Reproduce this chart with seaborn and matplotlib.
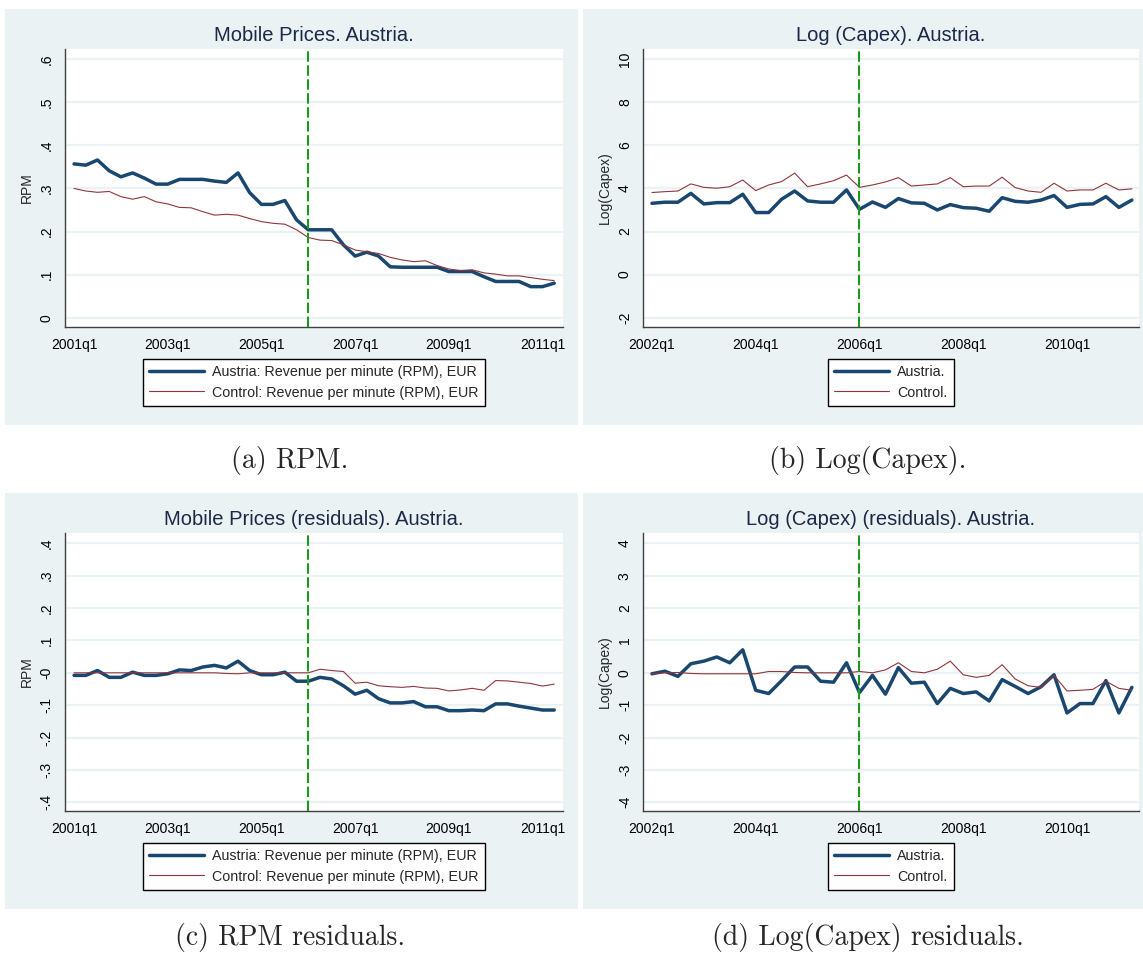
import numpy as np
import pandas as pd
import matplotlib.pyplot as plt
import seaborn as sns
from matplotlib.patches import Rectangle
from matplotlib.ticker import FuncFormatter

sns.set_style('white')
plt.rcParams['font.family'] = ['Liberation Sans', 'DejaVu Sans']

# ---- data ----
rpm_austria = [0.357, 0.354, 0.366, 0.341, 0.327, 0.336, 0.324, 0.310, 0.310, 0.321,
               0.321, 0.321, 0.317, 0.314, 0.336, 0.290, 0.263, 0.263, 0.272, 0.227,
               0.204, 0.204, 0.204, 0.169, 0.143, 0.152, 0.143, 0.118, 0.117, 0.117,
               0.117, 0.117, 0.107, 0.107, 0.107, 0.095, 0.084, 0.084, 0.084, 0.072,
               0.072, 0.080]
rpm_control = [0.300, 0.294, 0.291, 0.293, 0.281, 0.275, 0.281, 0.269, 0.264, 0.256,
               0.255, 0.246, 0.238, 0.240, 0.238, 0.230, 0.223, 0.219, 0.217, 0.204,
               0.186, 0.180, 0.179, 0.169, 0.157, 0.153, 0.149, 0.140, 0.134, 0.130,
               0.132, 0.121, 0.113, 0.109, 0.111, 0.104, 0.101, 0.097, 0.097, 0.093,
               0.089, 0.086]

capex_austria = [3.31, 3.36, 3.36, 3.77, 3.28, 3.34, 3.34, 3.73, 2.88, 2.88,
                 3.50, 3.88, 3.42, 3.36, 3.36, 3.93, 3.03, 3.37, 3.12, 3.53,
                 3.33, 3.31, 3.00, 3.25, 3.11, 3.08, 2.94, 3.57, 3.40, 3.36,
                 3.46, 3.67, 3.12, 3.26, 3.28, 3.62, 3.12, 3.46]
capex_control = [3.81, 3.85, 3.88, 4.21, 4.05, 4.01, 4.08, 4.39, 3.90, 4.16,
                 4.32, 4.71, 4.08, 4.21, 4.36, 4.62, 4.05, 4.16, 4.30, 4.50,
                 4.11, 4.16, 4.21, 4.50, 4.08, 4.11, 4.11, 4.52, 4.04, 3.88,
                 3.82, 4.24, 3.88, 3.93, 3.93, 4.24, 3.93, 3.98]

res_rpm_austria = [-0.008, -0.008, 0.007, -0.014, -0.014, 0.002, -0.008, -0.008, -0.003, 0.009,
                   0.007, 0.018, 0.023, 0.015, 0.036, 0.007, -0.006, -0.006, 0.002, -0.026,
                   -0.026, -0.014, -0.019, -0.040, -0.066, -0.054, -0.080, -0.093, -0.093, -0.089,
                   -0.105, -0.105, -0.117, -0.117, -0.115, -0.117, -0.096, -0.096, -0.103, -0.109,
                   -0.115, -0.115]
res_rpm_control = [0.000, 0.000, 0.000, 0.000, 0.000, 0.000, 0.000, 0.000, 0.000, 0.000,
                   0.000, 0.000, 0.000, -0.002, -0.003, 0.000, 0.000, 0.000, 0.000, 0.000,
                   0.000, 0.011, 0.007, 0.004, -0.032, -0.029, -0.040, -0.043, -0.045, -0.042,
                   -0.047, -0.048, -0.056, -0.053, -0.048, -0.054, -0.024, -0.025, -0.029, -0.033,
                   -0.041, -0.035]

res_capex_austria = [-0.03, 0.05, -0.11, 0.28, 0.36, 0.49, 0.31, 0.71, -0.54, -0.64,
                     -0.24, 0.18, 0.18, -0.26, -0.29, 0.31, -0.61, -0.08, -0.66, 0.16,
                     -0.32, -0.29, -0.95, -0.48, -0.64, -0.59, -0.87, -0.21, -0.42, -0.64,
                     -0.43, -0.06, -1.24, -0.95, -0.95, -0.24, -1.24, -0.45]
res_capex_control = [-0.03, 0.00, 0.01, -0.02, -0.03, -0.03, -0.03, -0.03, -0.03, 0.04,
                     0.04, 0.01, 0.00, 0.00, 0.00, 0.00, 0.04, 0.00, 0.09, 0.31,
                     0.04, 0.00, 0.11, 0.36, -0.06, -0.14, -0.08, 0.25, -0.19, -0.40,
                     -0.45, -0.08, -0.56, -0.54, -0.51, -0.26, -0.48, -0.54]

rpm_labels = ['Austria: Revenue per minute (RPM), EUR', 'Control: Revenue per minute (RPM), EUR']
capex_labels = ['Austria.', 'Control.']

NAVY = '#1A476F'
MAROON = '#90353B'
BG = '#EAF2F3'
GREEN = '#1A9A1A'
AXC = '#404040'
W, H = 1143, 955

fig = plt.figure(figsize=(W / 100, H / 100), dpi=100)
fig.patch.set_facecolor('white')


def px_rect(x0, y0, x1, y1):
    return [x0 / W, 1 - y1 / H, (x1 - x0) / W, (y1 - y0) / H]


def stata_num(v, pos=None):
    s = '%g' % round(v, 6)
    if s.startswith('0.'):
        s = s[1:]
    elif s.startswith('-0.'):
        s = '-' + s[2:]
    return s


def panel(box, axbox, start_year, austria, control, labels, yticks, ylim,
          xlim, ylabel, title, legend_xy, caption, caption_xy):
    fig.patches.append(Rectangle((box[0], box[1]), box[2], box[3],
                                 transform=fig.transFigure, facecolor=BG,
                                 edgecolor='none', zorder=-10))
    ax = fig.add_axes(axbox)
    ax.set_facecolor('white')
    q = np.arange(len(austria))
    df = pd.DataFrame({'q': q, 'austria': austria, 'control': control})
    sns.lineplot(data=df, x='q', y='austria', ax=ax, color=NAVY, lw=2.5,
                 label=labels[0], zorder=2)
    sns.lineplot(data=df, x='q', y='control', ax=ax, color=MAROON, lw=0.8,
                 label=labels[1], zorder=2.5)
    event = (2006 - start_year) * 4
    ax.axvline(event, color=GREEN, lw=1.5, ls=(0, (5, 1.7)), zorder=3)

    ax.set_xlim(*xlim)
    ax.set_ylim(*ylim)
    xt = np.arange(0, len(austria), 8)
    ax.set_xticks(xt)
    ax.set_xticklabels([f'{start_year + t // 4}q1' for t in xt], fontsize=10)
    ax.set_yticks(yticks)
    ax.yaxis.set_major_formatter(FuncFormatter(stata_num))
    for lab in ax.get_yticklabels():
        lab.set_rotation(90)
        lab.set_va('center')
        lab.set_fontsize(10)
    ax.tick_params(axis='both', direction='out', length=5, width=1, color=AXC,
                   labelcolor='black', pad=3)
    ax.yaxis.grid(True, color=BG, lw=1.6)
    ax.xaxis.grid(False)
    ax.set_axisbelow(True)
    for s in ['top', 'right']:
        ax.spines[s].set_visible(False)
    for s in ['left', 'bottom']:
        ax.spines[s].set_color(AXC)
        ax.spines[s].set_linewidth(1)
    ax.set_xlabel('')
    ax.set_ylabel(ylabel, fontsize=10, labelpad=4)
    ax.set_title(title, fontsize=14.5, color='#1C2848', pad=6)

    leg = ax.legend(loc='center', bbox_to_anchor=legend_xy,
                    bbox_transform=fig.transFigure, fontsize=10.3, ncol=1,
                    frameon=True, fancybox=False, handlelength=3.8,
                    borderpad=0.45, labelspacing=0.42, handletextpad=0.6,
                    borderaxespad=0, edgecolor='black', framealpha=1)
    leg.get_frame().set_linewidth(1.0)
    fig.text(caption_xy[0] / W, 1 - caption_xy[1] / H, caption, ha='center',
             va='center', fontsize=20, family=['cmr10', 'DejaVu Serif'])
    return ax


panel(px_rect(5, 9, 578, 425), px_rect(64.8, 49.3, 563, 326.7), 2001,
      rpm_austria, rpm_control, rpm_labels, np.arange(0, 0.61, 0.1),
      (-0.021, 0.623), (-0.79, 41.75), 'RPM', 'Mobile Prices. Austria.',
      (314 / W, 1 - 382.5 / H), '(a) RPM.', (290, 460))

panel(px_rect(583, 9, 1143, 425), px_rect(643, 49.3, 1139, 326.7), 2002,
      capex_austria, capex_control, capex_labels, np.arange(-2, 10.1, 2),
      (-2.42, 10.46), (-0.69, 37.55), 'Log(Capex)', 'Log (Capex). Austria.',
      (891 / W, 1 - 382.5 / H), '(b) Log(Capex).', (868, 460))

panel(px_rect(5, 493, 578, 909), px_rect(64.8, 533.3, 563, 810.7), 2001,
      res_rpm_austria, res_rpm_control, rpm_labels, np.arange(-0.4, 0.41, 0.1),
      (-0.426, 0.431), (-0.79, 41.75), 'RPM', 'Mobile Prices (residuals). Austria.',
      (314 / W, 1 - 866.5 / H), '(c) RPM residuals.', (290, 937))

panel(px_rect(583, 493, 1143, 909), px_rect(643, 533.3, 1139, 810.7), 2002,
      res_capex_austria, res_capex_control, capex_labels, np.arange(-4, 4.1, 1),
      (-4.26, 4.31), (-0.69, 37.55), 'Log(Capex)', 'Log (Capex) (residuals). Austria.',
      (891 / W, 1 - 866.5 / H), '(d) Log(Capex) residuals.', (868, 937))

fig.savefig('out.png', dpi=100, facecolor='white')
